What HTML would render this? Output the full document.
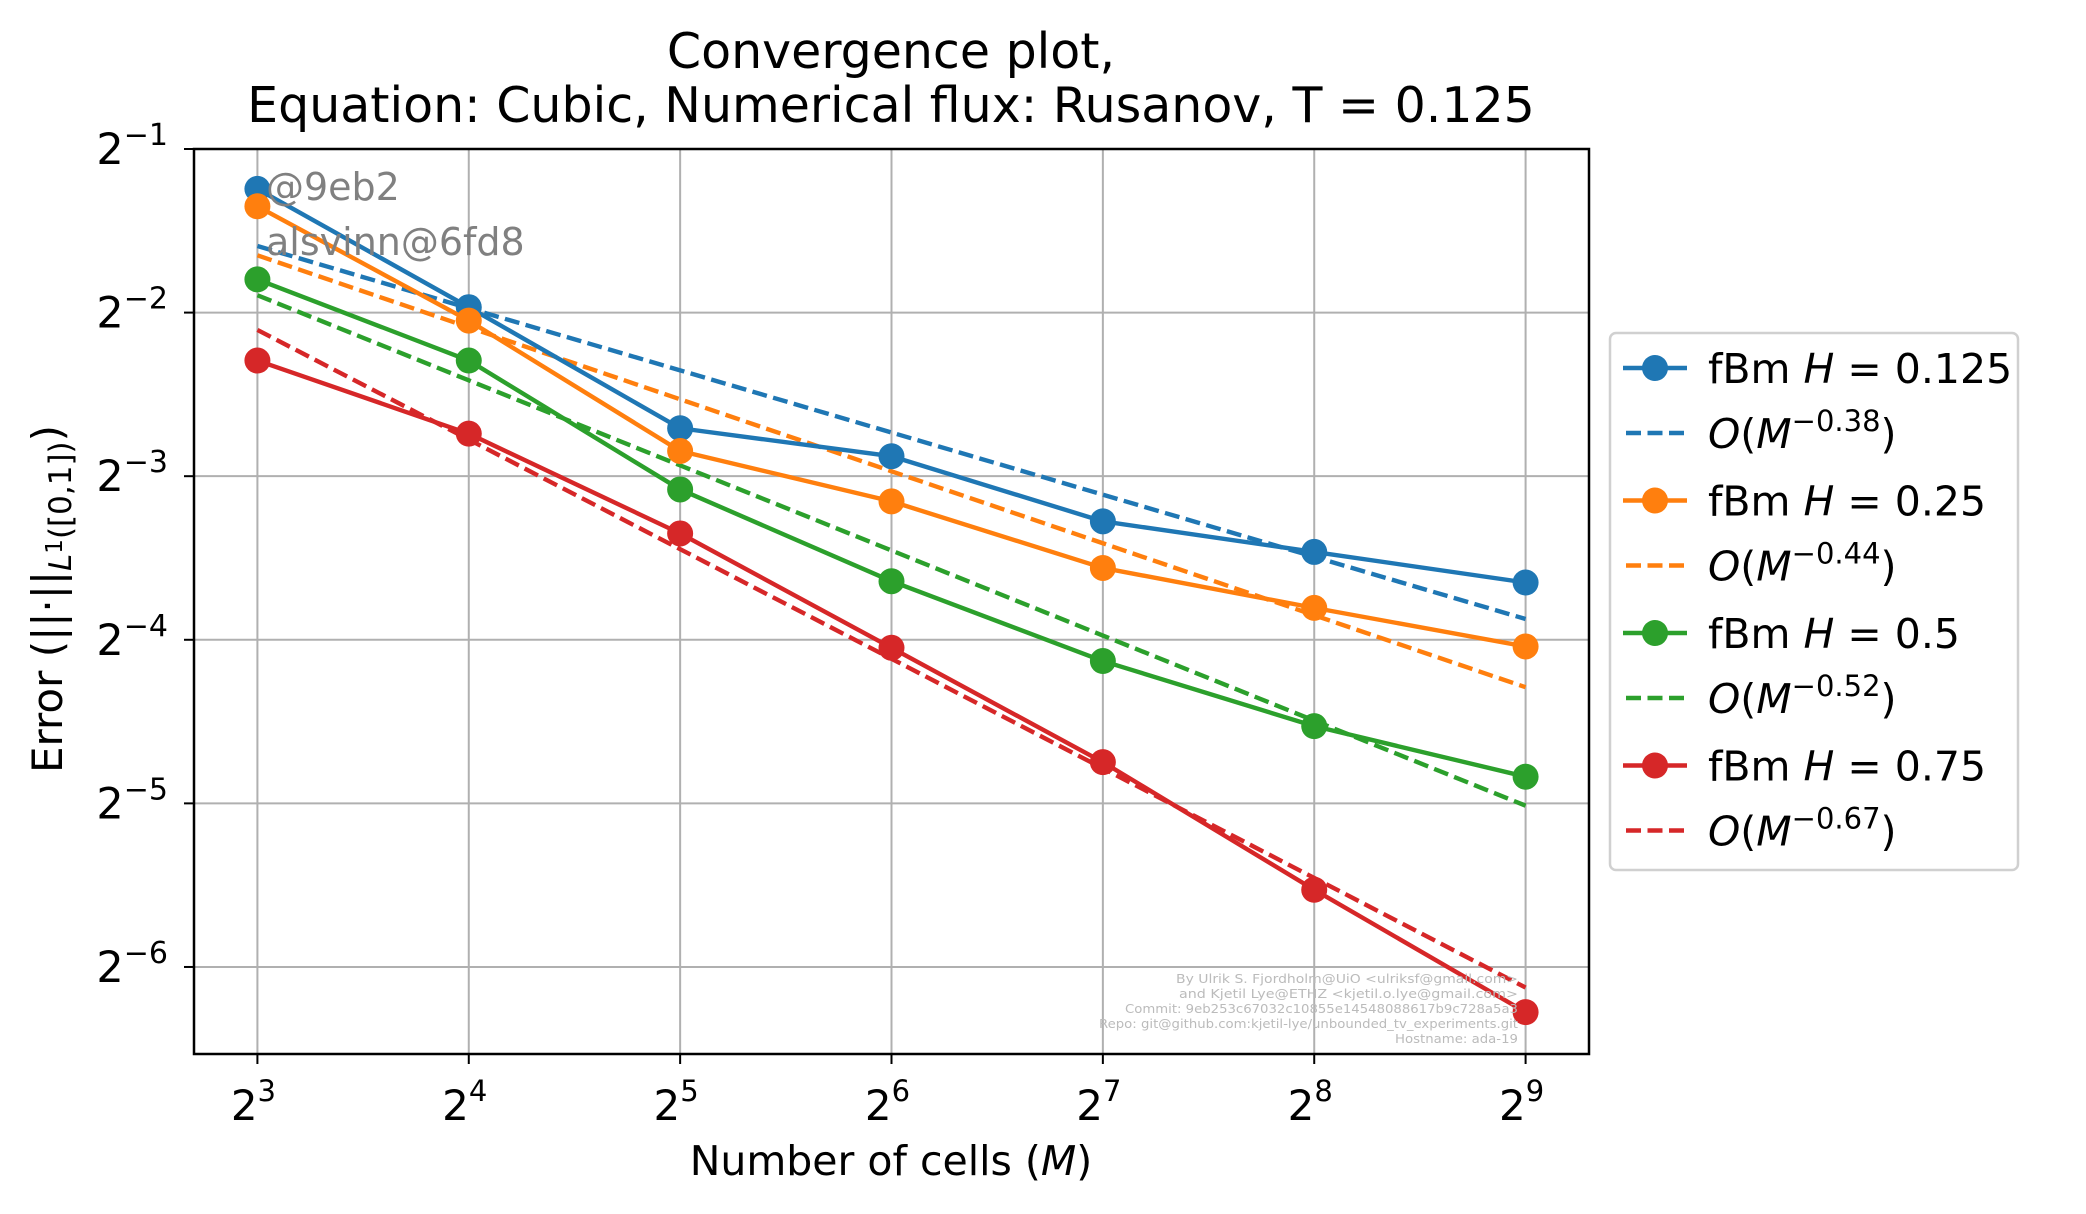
<!DOCTYPE html>
<html><head><meta charset="utf-8"><style>
html,body{margin:0;padding:0;background:#fff}
svg{display:block;font-family:"DejaVu Sans","Liberation Sans",sans-serif}
</style></head><body>
<svg id="chart" width="2086" height="1214" viewBox="0 0 2086 1214" xmlns="http://www.w3.org/2000/svg">
<rect width="2086" height="1214" fill="#fff"/>
<text x="891" y="68" font-size="49" text-anchor="middle">Convergence plot,</text>
<text x="891" y="122" font-size="49" text-anchor="middle">Equation: Cubic, Numerical flux: Rusanov, T = 0.125</text>
<g id="grid"></g>
<g id="series"></g>
<g id="ticks"></g>
<rect x="194" y="149" width="1395" height="905" fill="none" stroke="#000" stroke-width="2.5"/>
<text x="266" y="200" font-size="38" fill="#808080">@9eb2</text>
<text x="266" y="255" font-size="38" fill="#808080">alsvinn@6fd8</text>
<g font-size="12" fill="#bbb" text-anchor="end" font-family="DejaVu Sans, sans-serif">
<text x="1518" y="983" textLength="342" lengthAdjust="spacingAndGlyphs">By Ulrik S. Fjordholm@UiO &lt;ulriksf@gmail.com&gt;</text>
<text x="1518" y="998" textLength="339" lengthAdjust="spacingAndGlyphs">and Kjetil Lye@ETHZ &lt;kjetil.o.lye@gmail.com&gt;</text>
<text x="1518" y="1013" textLength="393" lengthAdjust="spacingAndGlyphs">Commit: 9eb253c67032c10855e14548088617b9c728a5a3</text>
<text x="1518" y="1028" textLength="419" lengthAdjust="spacingAndGlyphs">Repo: git@github.com:kjetil-lye/unbounded_tv_experiments.git</text>
<text x="1518" y="1043" textLength="123" lengthAdjust="spacingAndGlyphs">Hostname: ada-19</text>
</g>
<text x="891" y="1175" font-size="41" text-anchor="middle">Number of cells (<tspan font-style="italic">M</tspan>)</text>
<text transform="translate(62,599) rotate(-90)" font-size="42" text-anchor="middle">Error (||·||<tspan font-size="31" dy="9" font-style="italic">L</tspan><tspan font-size="23" dy="-9">1</tspan><tspan font-size="31" dy="9">([0,1])</tspan><tspan dy="-9">)</tspan></text>
<g id="legend"></g>
</svg>
<script>
const xExps = [3,4,5,6,7,8,9];
const yTickExps = [-1,-2,-3,-4,-5,-6];
const rates = [0.38,0.44,0.52,0.67];
const rateLabels = ["-0.38","-0.44","-0.52","-0.67"];
const hValues = ["0.125","0.25","0.5","0.75"];
const errBlue = [-1.244,-1.967,-2.707,-2.878,-3.276,-3.463,-3.650];
const errOrange = [-1.350,-2.049,-2.846,-3.154,-3.561,-3.805,-4.041];
const errGreen = [-1.797,-2.293,-3.081,-3.642,-4.130,-4.528,-4.837];
const errRed = [-2.293,-2.740,-3.350,-4.049,-4.748,-5.528,-6.276];
const fitIntercepts = [-1.593,-1.650,-1.894,-2.106];
const colors = ["#1f77b4","#ff7f0e","#2ca02c","#d62728"];
const allErr = [errBlue,errOrange,errGreen,errRed];
const NS="http://www.w3.org/2000/svg";
const L=194,R=1589,T=149,B=1054;
const xMin=2.7,xMax=9.3,yMax=-1,yMin=-6.532;
function xs(e){return L+(e-xMin)/(xMax-xMin)*(R-L);}
function ys(e){return T+(yMax-e)/(yMax-yMin)*(B-T);}
function mk(tag,attrs,parent){const el=document.createElementNS(NS,tag);for(const k in attrs)el.setAttribute(k,attrs[k]);parent.appendChild(el);return el;}
const grid=document.getElementById('grid'),ticks=document.getElementById('ticks'),ser=document.getElementById('series'),leg=document.getElementById('legend');
xExps.forEach(e=>{
  const g=mk('line',{x1:xs(e),x2:xs(e),y1:T,y2:B,stroke:'#b0b0b0','stroke-width':2},grid);
  
  
  mk('line',{x1:xs(e),x2:xs(e),y1:B,y2:B+10,stroke:'#000','stroke-width':2},ticks);
  const t=mk('text',{x:xs(e)-4,y:B+66,'font-size':42,'text-anchor':'middle'},ticks);
  
  
  t.innerHTML='2<tspan font-size="29" dy="-19">'+e+'</tspan>';
});
yTickExps.forEach(e=>{
  const g=mk('line',{x1:L,x2:R,y1:ys(e),y2:ys(e),stroke:'#b0b0b0','stroke-width':2},grid);
  
  
  mk('line',{x1:L-10,x2:L,y1:ys(e),y2:ys(e),stroke:'#000','stroke-width':2},ticks);
  const t=mk('text',{x:L-26,y:ys(e)+15,'font-size':43,'text-anchor':'end'},ticks);
  
  
  t.innerHTML='2<tspan font-size="30" dy="-19">\u2212'+(-e)+'</tspan>';
});
allErr.forEach((arr,i)=>{
  const fp=xExps.map(k=>xs(k)+','+ys(fitIntercepts[i]-rates[i]*(k-xExps[0]))).join(' ');
  const fl=mk('polyline',{points:fp,fill:'none',stroke:colors[i],'stroke-width':4.4,'stroke-dasharray':'15,6.5'},ser);
  
  
});
allErr.forEach((arr,i)=>{
  const pts=arr.map((v,j)=>xs(xExps[j])+','+ys(v)).join(' ');
  const pl=mk('polyline',{points:pts,fill:'none',stroke:colors[i],'stroke-width':4.4,'stroke-linejoin':'round'},ser);
  
  
  arr.forEach((v,j)=>{
    const c=mk('circle',{cx:xs(xExps[j]),cy:ys(v),r:13,fill:colors[i]},ser);
    
    
  });
});
const box=mk('rect',{x:1610,y:333,width:408,height:537,rx:6,fill:'#fff',stroke:'#d0d0d0','stroke-width':2.5},leg);


for(let i=0;i<4;i++){
  const y1=368+i*132.5,y2=y1+65;
  mk('line',{x1:1623,x2:1687,y1:y1,y2:y1,stroke:colors[i],'stroke-width':4.4},leg);
  mk('circle',{cx:1655,cy:y1,r:13,fill:colors[i]},leg);
  const t1=mk('text',{x:1708,y:y1+15,'font-size':41},leg);
  
  
  t1.innerHTML='fBm <tspan font-style="italic">H</tspan> = '+hValues[i];
  mk('line',{x1:1626,x2:1686,y1:y2,y2:y2,stroke:colors[i],'stroke-width':4.4,'stroke-dasharray':'15,6.5'},leg);
  const t2=mk('text',{x:1708,y:y2+15,'font-size':41},leg);
  
  
  t2.innerHTML='<tspan font-style="italic">O</tspan>(<tspan font-style="italic">M</tspan><tspan font-size="29" dy="-17">'+rateLabels[i].replace('-','\u2212')+'</tspan><tspan dy="17">)</tspan>';
}
</script>
</body></html>
